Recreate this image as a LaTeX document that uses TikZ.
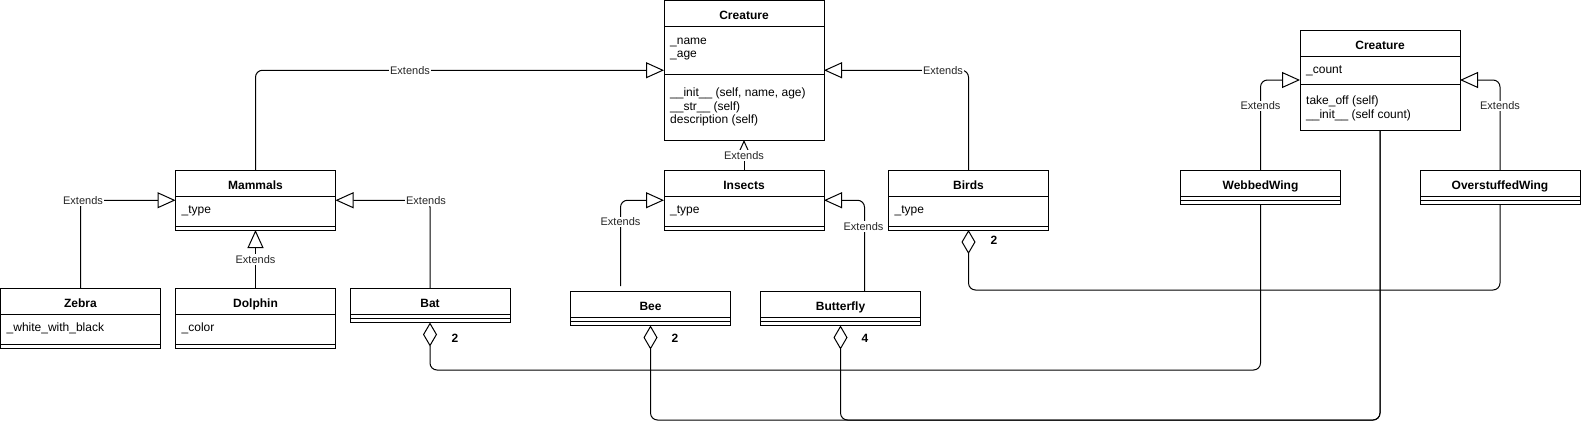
\documentclass[tikz,border=0pt]{standalone}
\usepackage{fontspec}
\setmainfont{Liberation Sans}
\usetikzlibrary{arrows.meta}
\tikzset{
  cls/.style={draw, line width=1pt, minimum width=160pt, inner sep=0pt, outer sep=0pt, anchor=north west},
  ttl/.style={font=\fontsize{12}{14}\selectfont\bfseries, inner sep=0pt, anchor=base},
  attr/.style={font=\fontsize{12}{14}\selectfont, inner sep=0pt, anchor=base west},
  ext/.style={font=\fontsize{11}{13}\selectfont, fill=white, inner sep=1pt, text=black!85},
  gen/.style={draw, line width=1pt, rounded corners=7pt, -{Triangle[open, length=18pt, width=16pt]}},
  agg/.style={draw, line width=1pt, rounded corners=7pt, {Diamond[open, length=24pt, width=14pt]}-},
  mult/.style={font=\fontsize{12}{14}\selectfont\bfseries, inner sep=0pt},
  divl/.style={line width=1pt},
}
\begin{document}
\begin{tikzpicture}[x=1pt,y=-1pt]
\useasboundingbox (0,0) rectangle (1581,447);

% ---------- Creature (left) ----------
\node[cls, minimum height=139.5pt] (c1) at (664,0.5) {};
\draw[divl] (664,26) -- (824,26);
\draw[divl] (664,74) -- (824,74);
\node[ttl] (c1t) at (744,19) {Creature};
\node[attr] (c1a1) at (670,44) {\_name};
\node[attr] (c1a2) at (670,57.5) {\_age};
\node[attr] (c1m1) at (670,96.5) {\_\_init\_\_ (self, name, age)};
\node[attr] (c1m2) at (670,110) {\_\_str\_\_ (self)};
\node[attr] (c1m3) at (670,123.5) {description (self)};

% ---------- Mammals ----------
\node[cls, minimum height=59.5pt] (mam) at (175.5,170.5) {};
\draw[divl] (175.5,196.5) -- (335.5,196.5);
\draw[divl] (175.5,226) -- (335.5,226);
\node[ttl] (mamt) at (255.5,189.5) {Mammals};
\node[attr] (mama) at (181.5,213.5) {\_type};

% ---------- Insects ----------
\node[cls, minimum height=59.5pt] (ins) at (664,170.5) {};
\draw[divl] (664,196.5) -- (824,196.5);
\draw[divl] (664,226) -- (824,226);
\node[ttl] (inst) at (744,189.5) {Insects};
\node[attr] (insa) at (670,213.5) {\_type};

% ---------- Birds ----------
\node[cls, minimum height=59.5pt] (bir) at (888.5,170.5) {};
\draw[divl] (888.5,196.5) -- (1048.5,196.5);
\draw[divl] (888.5,226) -- (1048.5,226);
\node[ttl] (birt) at (968.5,189.5) {Birds};
\node[attr] (bira) at (894.5,213.5) {\_type};

% ---------- Zebra ----------
\node[cls, minimum height=59.5pt] (zeb) at (0.5,288.5) {};
\draw[divl] (0.5,314.5) -- (160.5,314.5);
\draw[divl] (0.5,344) -- (160.5,344);
\node[ttl] (zebt) at (80.5,307.5) {Zebra};
\node[attr] (zeba) at (6.5,331.5) {\_white\_with\_black};

% ---------- Dolphin ----------
\node[cls, minimum height=59.5pt] (dol) at (175.5,288.5) {};
\draw[divl] (175.5,314.5) -- (335.5,314.5);
\draw[divl] (175.5,344) -- (335.5,344);
\node[ttl] (dolt) at (255.5,307.5) {Dolphin};
\node[attr] (dola) at (181.5,331.5) {\_color};

% ---------- Bat ----------
\node[cls, minimum height=34pt] (bat) at (350,288.5) {};
\draw[divl] (350,314.5) -- (510,314.5);
\draw[divl] (350,318.5) -- (510,318.5);
\node[ttl] (batt) at (430,307.5) {Bat};

% ---------- Bee ----------
\node[cls, minimum height=34pt] (bee) at (570.5,291.5) {};
\draw[divl] (570.5,317.5) -- (730.5,317.5);
\draw[divl] (570.5,321.5) -- (730.5,321.5);
\node[ttl] (beet) at (650.5,310.5) {Bee};

% ---------- Butterfly ----------
\node[cls, minimum height=34pt] (but) at (760.5,291.5) {};
\draw[divl] (760.5,317.5) -- (920.5,317.5);
\draw[divl] (760.5,321.5) -- (920.5,321.5);
\node[ttl] (butt) at (840.5,310.5) {Butterfly};

% ---------- WebbedWing ----------
\node[cls, minimum height=34pt] (ww) at (1180.5,170.5) {};
\draw[divl] (1180.5,196.5) -- (1340.5,196.5);
\draw[divl] (1180.5,200.5) -- (1340.5,200.5);
\node[ttl] (wwt) at (1260.5,189.5) {WebbedWing};

% ---------- OverstuffedWing ----------
\node[cls, minimum height=34pt] (ow) at (1420,170.5) {};
\draw[divl] (1420,196.5) -- (1580,196.5);
\draw[divl] (1420,200.5) -- (1580,200.5);
\node[ttl] (owt) at (1500,189.5) {OverstuffedWing};

% ---------- Creature (right) ----------
\node[cls, minimum height=100pt] (c2) at (1300,30) {};
\draw[divl] (1300,56) -- (1460,56);
\draw[divl] (1300,84.5) -- (1460,84.5);
\node[ttl] (c2t) at (1380,49) {Creature};
\node[attr] (c2a1) at (1306,73.5) {\_count};
\node[attr] (c2m1) at (1306,104.5) {take\_off (self)};
\node[attr] (c2m2) at (1306,118.5) {\_\_init\_\_ (self count)};

% ---------- generalisations ----------
\coordinate (beetop) at (620.5,286);
\draw[gen] (mam.north) |- (c1.west);
\draw[gen] (zeb.north) |- (mam.west);
\draw[gen] (bat.north) |- (mam.east);
\draw[gen] (dol.north) -- (mam.south);
\draw[gen] (ins.north) -- (c1.south);
\draw[gen] (bir.north) |- (c1.east);
\draw[gen] (beetop) |- (ins.west);
\draw[gen] ([xshift=24pt]but.north) |- (ins.east);
\draw[gen] (ww.north) |- (c2.west);
\draw[gen] (ow.north) |- (c2.east);

% ---------- aggregations ----------
\draw[agg] (bat.south) -- (bat.south |- 0,370) -| (ww.south);
\draw[agg] (bee.south) -- (bee.south |- 0,420) -| (c2.south);
\draw[agg] (but.south) -- (but.south |- 0,420) -| (c2.south);
\draw[agg] (bir.south) -- (bir.south |- 0,290) -| (ow.south);

% ---------- labels ----------
\node[ext] (l1) at (410,70.5) {Extends};
\node[ext] (l2) at (83,200.5) {Extends};
\node[ext] (l3) at (426,200.5) {Extends};
\node[ext] (l4) at (255.5,259.5) {Extends};
\node[ext] (l5) at (744,155.5) {Extends};
\node[ext] (l6) at (943,71) {Extends};
\node[ext] (l7) at (620.5,222) {Extends};
\node[ext] (l8) at (863.5,226.5) {Extends};
\node[ext] (l9) at (1260.5,106) {Extends};
\node[ext] (l10) at (1500,106) {Extends};

\node[mult] (m1) at (455,338) {2};
\node[mult] (m2) at (675,338) {2};
\node[mult] (m3) at (865,338) {4};
\node[mult] (m4) at (994,240) {2};
\end{tikzpicture}
\end{document}
